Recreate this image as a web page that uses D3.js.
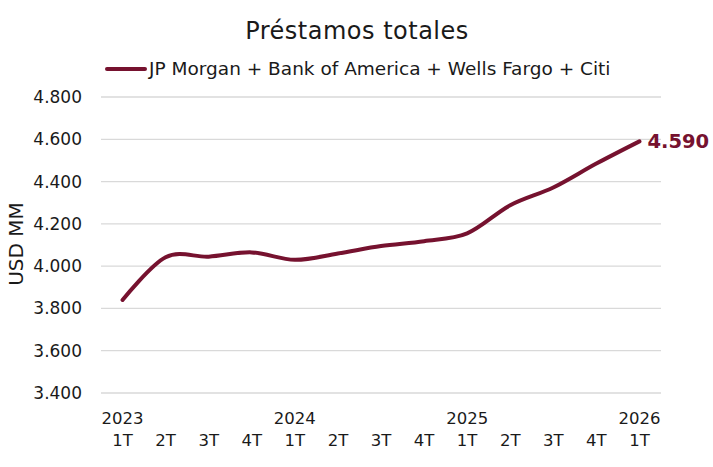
<!DOCTYPE html>
<html>
<head>
<meta charset="utf-8">
<script src="https://cdn.jsdelivr.net/npm/d3@7"></script>
<style>
  body { margin: 0; background: #fff; }
  text { font-family: "DejaVu Sans", sans-serif; fill: #1a1a1a; }
</style>
</head>
<body>
<div id="chart"></div>
<script>
// quarters on the x axis, year shown only on the 1T ticks
var quarters = ['1T', '2T', '3T', '4T', '1T', '2T', '3T', '4T', '1T', '2T', '3T', '4T', '1T'];
var years = ['2023', '', '', '', '2024', '', '', '', '2025', '', '', '', '2026'];
// total loans, USD MM
var loans = [3840, 4042, 4045, 4065, 4030, 4060, 4095, 4118, 4155, 4288, 4372, 4485, 4590];
var yTicks = [3400, 3600, 3800, 4000, 4200, 4400, 4600, 4800];
var seriesName = 'JP Morgan + Bank of America + Wells Fargo + Citi';
var title = 'Préstamos totales';

var width = 713, height = 467;
var color = '#76122f';
var margin = { top: 97, right: 52, bottom: 74, left: 101 };

var locale = d3.formatLocale({ decimal: ',', thousands: '.', grouping: [3], currency: ['', ''] });
var fmt = locale.format(',.0f');

var svg = d3.select('#chart').append('svg')
    .attr('width', width)
    .attr('height', height);

var idx = d3.range(quarters.length);
var x = d3.scaleBand().domain(idx).range([margin.left, width - margin.right]);
var y = d3.scaleLinear().domain([3400, 4800]).range([height - margin.bottom, margin.top]);

// gridlines
svg.append('g').selectAll('line')
    .data(yTicks)
    .enter().append('line')
    .attr('x1', margin.left)
    .attr('x2', width - margin.right)
    .attr('y1', function(d) { return y(d); })
    .attr('y2', function(d) { return y(d); })
    .attr('stroke', '#d9d9d9')
    .attr('stroke-width', 1.3);

// y tick labels
svg.append('g').selectAll('text')
    .data(yTicks)
    .enter().append('text')
    .attr('x', 82)
    .attr('y', function(d) { return y(d); })
    .attr('dy', '0.35em')
    .attr('text-anchor', 'end')
    .style('font-size', '17px')
    .text(function(d) { return fmt(d); });

// y axis title
svg.append('text')
    .attr('transform', 'translate(16,244) rotate(-90)')
    .attr('text-anchor', 'middle')
    .attr('dy', '0.35em')
    .style('font-size', '20px')
    .text('USD MM');

// x labels: year line and quarter line
var xl = svg.append('g').selectAll('g')
    .data(idx)
    .enter().append('g')
    .attr('transform', function(i) { return 'translate(' + (x(i) + x.bandwidth() / 2) + ',0)'; });
xl.append('text')
    .attr('y', 418)
    .attr('dy', '0.35em')
    .attr('text-anchor', 'middle')
    .style('font-size', '16.5px')
    .text(function(i) { return years[i]; });
xl.append('text')
    .attr('y', 440)
    .attr('dy', '0.35em')
    .attr('text-anchor', 'middle')
    .style('font-size', '16.5px')
    .text(function(i) { return quarters[i]; });

// the line
var line = d3.line()
    .x(function(d, i) { return x(i) + x.bandwidth() / 2; })
    .y(function(d) { return y(d); })
    .curve(d3.curveCardinal.tension(0));

svg.append('path')
    .datum(loans)
    .attr('d', line)
    .attr('fill', 'none')
    .attr('stroke', color)
    .attr('stroke-width', 4)
    .attr('stroke-linecap', 'round');

// last value label
var last = loans.length - 1;
svg.append('text')
    .attr('x', x(last) + x.bandwidth() / 2 + 8)
    .attr('y', y(loans[last]))
    .attr('dy', '0.35em')
    .style('font-size', '19.5px')
    .style('font-weight', 'bold')
    .style('fill', color)
    .text(fmt(loans[last]));

// title
svg.append('text')
    .attr('x', 357)
    .attr('y', 31)
    .attr('dy', '0.35em')
    .attr('text-anchor', 'middle')
    .style('font-size', '24px')
    .style('letter-spacing', '0.5px')
    .text(title);

// legend
svg.append('line')
    .attr('x1', 107).attr('x2', 145)
    .attr('y1', 69).attr('y2', 69)
    .attr('stroke', color)
    .attr('stroke-width', 4)
    .attr('stroke-linecap', 'round');
svg.append('text')
    .attr('x', 149)
    .attr('y', 69)
    .attr('dy', '0.35em')
    .style('font-size', '18.5px')
    .text(seriesName);
</script>
</body>
</html>
